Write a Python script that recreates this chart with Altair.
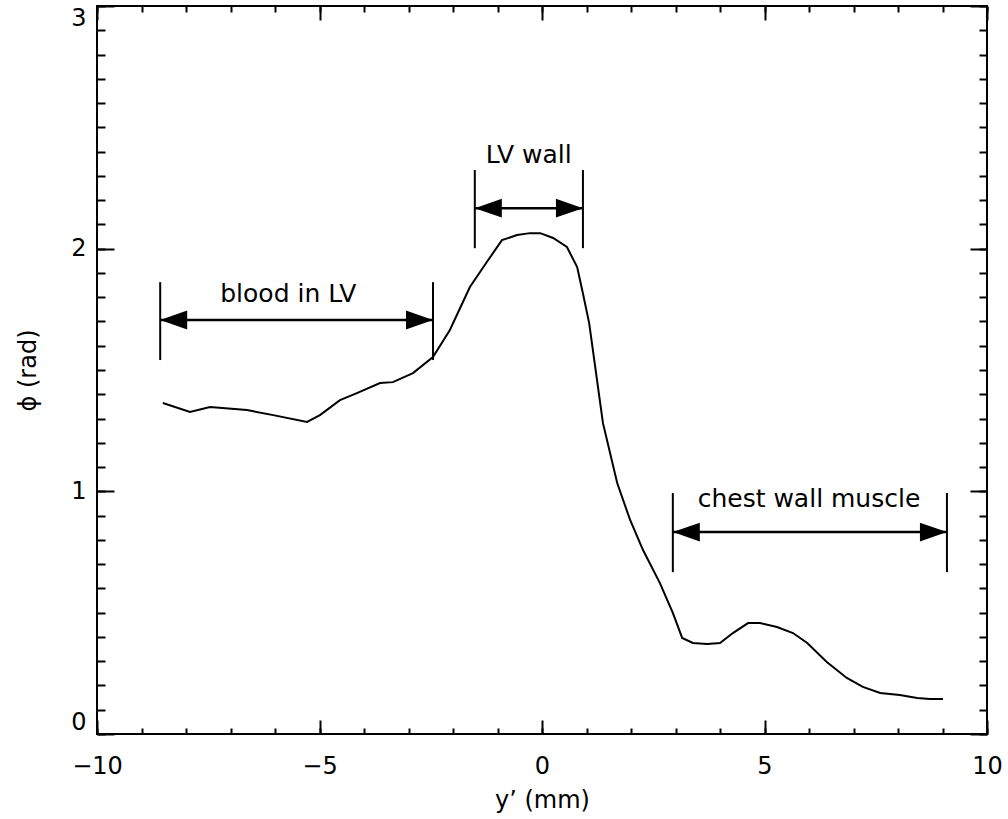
import altair as alt
import pandas as pd

# ---- curve data ----
y_prime = [-8.52, -7.91, -7.46, -6.63, -6.04, -5.28, -4.99, -4.54, -4.16, -3.64,
           -3.35, -2.90, -2.45, -2.07, -1.62, -1.24, -0.90, -0.56, -0.27, -0.04,
           0.25, 0.56, 0.79, 0.92, 1.06, 1.37, 1.69, 1.98, 2.27, 2.65,
           2.94, 3.15, 3.39, 3.71, 4.00, 4.29, 4.63, 4.90, 5.28, 5.64,
           5.96, 6.40, 6.85, 7.21, 7.60, 8.04, 8.43, 8.72, 9.01]
phi = [1.364, 1.327, 1.347, 1.335, 1.314, 1.286, 1.314, 1.376, 1.405, 1.446,
       1.450, 1.487, 1.553, 1.665, 1.842, 1.945, 2.035, 2.056, 2.064, 2.064,
       2.044, 2.007, 1.924, 1.815, 1.693, 1.281, 1.034, 0.882, 0.758, 0.622,
       0.499, 0.396, 0.375, 0.371, 0.375, 0.416, 0.457, 0.457, 0.441, 0.416,
       0.375, 0.297, 0.231, 0.194, 0.169, 0.161, 0.148, 0.144, 0.144]

# ---- annotations ----
ann_labels = ["blood in LV", "LV wall", "chest wall muscle"]
ann_left = [-8.58, -1.51, 2.94]
ann_right = [-2.45, 0.92, 9.10]
ann_arrow_y = [1.706, 2.167, 0.832]
ann_bar_low = [1.541, 2.002, 0.667]
ann_bar_high = [1.862, 2.324, 0.993]
ann_text_x = [-5.70, -0.30, 6.00]
ann_text_y = [1.780, 2.353, 0.935]

# ---- axes ----
x_domain = [-10, 10]
y_domain = [0, 3]
x_major = [-10, -5, 0, 5, 10]
x_minor = list(range(-10, 11))
y_major = [0, 1, 2, 3]
y_minor = [round(i * 0.1, 1) for i in range(31)]
x_title = "y\u2019 (mm)"
y_title = "\u03d5 (rad)"

W, H = 890, 728
FONT = "DejaVu Sans"

df = pd.DataFrame({"x": y_prime, "y": phi})
ann = pd.DataFrame({
    "label": ann_labels, "left": ann_left, "right": ann_right,
    "ay": ann_arrow_y, "lo": ann_bar_low, "hi": ann_bar_high,
    "tx": ann_text_x, "ty": ann_text_y,
})

xs = alt.Scale(domain=x_domain, nice=False, zero=False)
ys = alt.Scale(domain=y_domain, nice=False, zero=False)


def tick_axis(orient, values, size, offset):
    return alt.Axis(orient=orient, values=values, labels=False, ticks=True,
                    tickSize=size, tickWidth=2, tickColor="black",
                    domain=False, grid=False, title="", offset=offset)


def layer(xaxis, yaxis, visible=False):
    if visible:
        m = alt.Chart(df).mark_line(color="black", strokeWidth=2)
    else:
        m = alt.Chart(df).mark_line(opacity=0)
    return m.encode(
        x=alt.X("x:Q", scale=xs, axis=xaxis),
        y=alt.Y("y:Q", scale=ys, axis=yaxis),
    )


main = layer(
    alt.Axis(orient="bottom", values=x_major, ticks=False, domain=False, grid=False,
             labelPadding=20, labelFontSize=24, labelFont=FONT, labelColor="black",
             labelFlush=False, format="d", title=x_title, titleFont=FONT,
             titleFontSize=24, titleFontWeight="normal", titleColor="black",
             titleBaseline="middle", titleY=66, titleX=W / 2),
    alt.Axis(orient="left", values=y_major, ticks=False, domain=False, grid=False,
             labelPadding=11, labelFontSize=24, labelFont=FONT, labelColor="black",
             labelFlush=True, format="d", title=y_title, titleFont=FONT,
             titleFontSize=24, titleFontWeight="normal", titleColor="black",
             titleBaseline="middle", titleX=-69, titleY=H / 2, titleAngle=270),
    visible=True,
)

# inward ticks on bottom & left edges
l_bl_major = layer(tick_axis("top", x_major, 14, -H), tick_axis("right", y_major, 17, -W))
l_bl_minor = layer(tick_axis("top", x_minor, 6, -H), tick_axis("right", y_minor, 8, -W))
# inward ticks on top & right edges
l_tr_major = layer(tick_axis("bottom", x_major, 14, -H), tick_axis("left", y_major, 17, -W))
l_tr_minor = layer(tick_axis("bottom", x_minor, 6, -H), tick_axis("left", y_minor, 8, -W))

base = alt.Chart(ann)
bars_l = base.mark_rule(color="black", strokeWidth=2).encode(
    x=alt.X("left:Q", scale=xs, axis=None), y=alt.Y("lo:Q", scale=ys, axis=None), y2="hi:Q")
bars_r = base.mark_rule(color="black", strokeWidth=2).encode(
    x=alt.X("right:Q", scale=xs, axis=None), y=alt.Y("lo:Q", scale=ys, axis=None), y2="hi:Q")
shaft = base.mark_rule(color="black", strokeWidth=2.5).encode(
    x=alt.X("left:Q", scale=xs, axis=None), x2="right:Q",
    y=alt.Y("ay:Q", scale=ys, axis=None))
head_l = base.mark_point(shape="M0,0L2,-0.7L2,0.7Z", size=729, filled=True,
                         color="black", opacity=1, strokeWidth=0).encode(
    x=alt.X("left:Q", scale=xs, axis=None), y=alt.Y("ay:Q", scale=ys, axis=None))
head_r = base.mark_point(shape="M0,0L-2,-0.7L-2,0.7Z", size=729, filled=True,
                         color="black", opacity=1, strokeWidth=0).encode(
    x=alt.X("right:Q", scale=xs, axis=None), y=alt.Y("ay:Q", scale=ys, axis=None))
texts = base.mark_text(font=FONT, fontSize=25, color="black", align="center",
                       baseline="alphabetic").encode(
    x=alt.X("tx:Q", scale=xs, axis=None), y=alt.Y("ty:Q", scale=ys, axis=None),
    text="label:N")

chart = alt.layer(
    main, l_bl_major, l_bl_minor, l_tr_major, l_tr_minor,
    bars_l, bars_r, shaft, head_l, head_r, texts,
).resolve_axis(x="independent", y="independent").properties(
    width=W, height=H,
    autosize=alt.AutoSizeParams(type="none"),
    padding={"left": 97, "top": 6, "right": 21, "bottom": 85},
    background="white",
).configure_view(stroke="black", strokeWidth=2)

chart.save("out.html", embed_options={"renderer": "svg", "actions": False})
